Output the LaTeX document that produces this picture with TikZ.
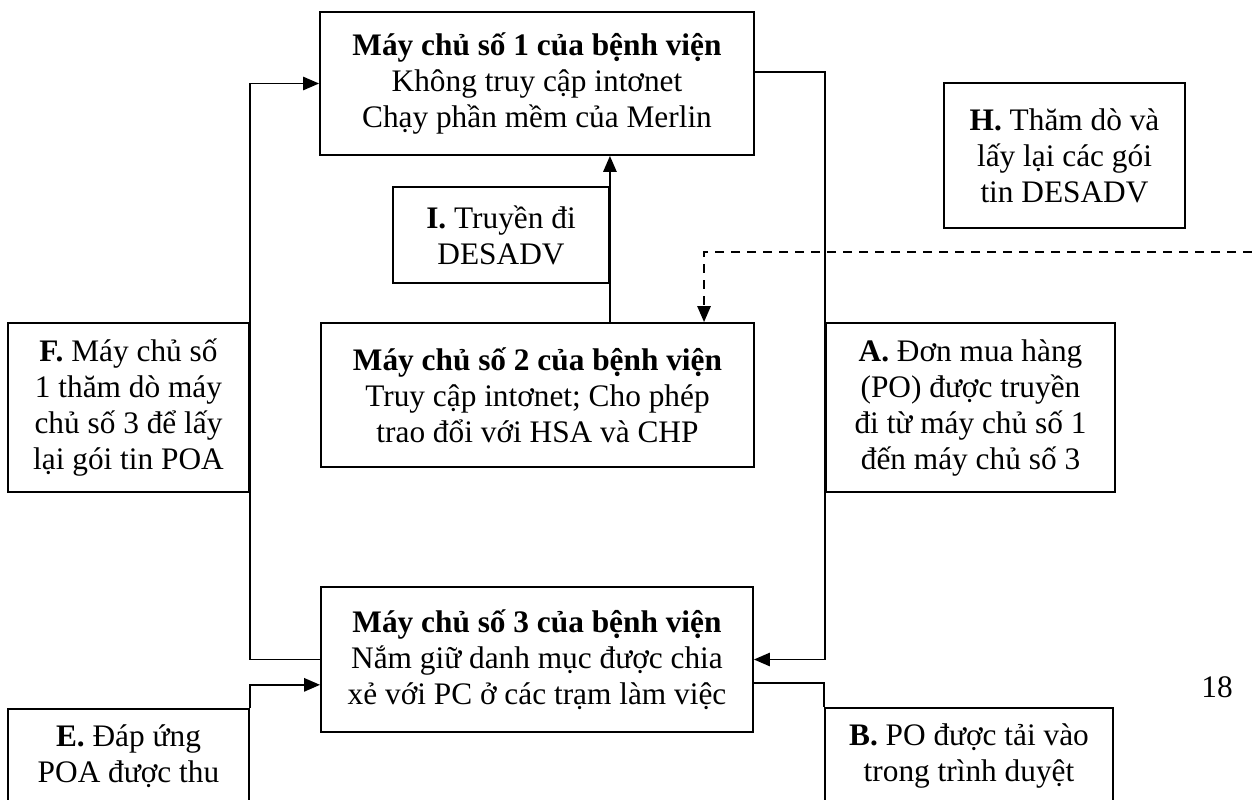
\documentclass[tikz,border=0pt]{standalone}
\usepackage{fontspec}
\setmainfont{Liberation Serif}
\usetikzlibrary{arrows.meta}
\begin{document}
\begin{tikzpicture}[x=0.75pt,y=-0.75pt,
  every node/.style={font=\fontsize{23.5pt}{27pt}\selectfont},
  box/.style={draw, line width=1.4pt, align=center, inner sep=0pt},
  openbox/.style={box, anchor=north, text height=55.5pt, text depth=60pt},
  link/.style={line width=1.4pt},
  tip/.style={link, -{Triangle[length=12pt,width=10pt]}},
  dlink/.style={tip, dash pattern=on 7pt off 5pt}]
\useasboundingbox (0,0) rectangle (1252,799);
\clip (0,0) rectangle (1252,799);

% servers
\node[box, minimum width=325.5pt, minimum height=107.25pt] (s1) at (537,83.5)
  {\textbf{Máy chủ số 1 của bệnh viện}\\Không truy cập intơnet\\Chạy phần mềm của Merlin};
\node[box, minimum width=324.75pt, minimum height=108pt] (s2) at (537.5,395)
  {\textbf{Máy chủ số 2 của bệnh viện}\\Truy cập intơnet; Cho phép\\trao đổi với HSA và CHP};
\node[box, minimum width=324pt, minimum height=108.75pt] (s3) at (537,659.5)
  {\textbf{Máy chủ số 3 của bệnh viện}\\Nắm giữ danh mục được chia\\xẻ với PC ở các trạm làm việc};

% steps
\node[box, minimum width=162pt, minimum height=72pt] (stI) at (501,235)
  {\textbf{I.} Truyền đi\\DESADV};
\node[box, minimum width=180.75pt, minimum height=108.75pt] (stH) at (1064.5,155.5)
  {\textbf{H.} Thăm dò và\\lấy lại các gói\\tin DESADV};
\node[box, minimum width=180.75pt, minimum height=126.75pt] (stF) at (128.5,407.5)
  {\textbf{F.} Máy chủ số\\1 thăm dò máy\\chủ số 3 để lấy\\lại gói tin POA};
\node[box, minimum width=216.75pt, minimum height=126.75pt] (stA) at (970.5,407.5)
  {\textbf{A.} Đơn mua hàng\\(PO) được truyền\\đi từ máy chủ số 1\\đến máy chủ số 3};
\node[openbox, minimum width=180.75pt] (stE) at (128.5,708)
  {\textbf{E.} Đáp ứng\\POA được thu};
\node[openbox, minimum width=216pt] (stB) at (969,707)
  {\textbf{B.} PO được tải vào\\trong trình duyệt};

% page number
\node (pnum) at (1217,687) {18};

% connectors
\draw[tip] (s3.west) -| (stF.east) |- (s1.west);
\draw[tip] (stE.north east) |- ([yshift=-19pt]s3.west);
\draw[tip] ([yshift=8.6pt]s1.east) -| (stA.west) |- (s3.east);
\draw[link] ([yshift=-17.6pt]s3.east) -| (stB.north west);
\draw[tip] (stI.east |- s2.north) -- (stI.east |- s1.south);
\coordinate (dEnd) at (1252,252);
\draw[dlink] (dEnd) -| ([xshift=124.9pt]s2.north);
\end{tikzpicture}
\end{document}
